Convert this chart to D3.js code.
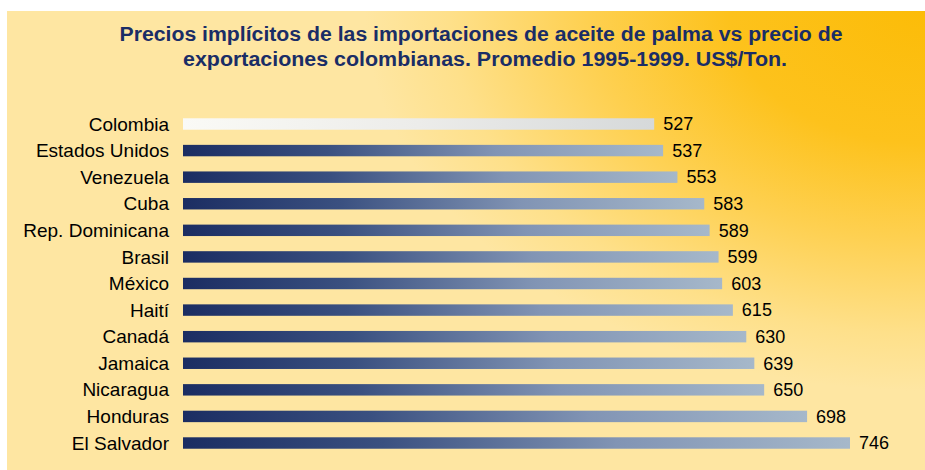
<!DOCTYPE html>
<html>
<head>
<meta charset="utf-8">
<script src="https://cdn.jsdelivr.net/npm/d3@7"></script>
<style>
  html, body { margin: 0; padding: 0; background: #ffffff; }
  svg { display: block; }
</style>
</head>
<body>
<svg id="chart" width="925" height="470"></svg>
<script>
const titleLines = [
  "Precios implícitos de las importaciones de aceite de palma vs precio de",
  "exportaciones colombianas. Promedio 1995-1999. US$/Ton."
];
const countries = ["Colombia", "Estados Unidos", "Venezuela", "Cuba", "Rep. Dominicana", "Brasil",
  "México", "Haití", "Canadá", "Jamaica", "Nicaragua", "Honduras", "El Salvador"];
const values = [527, 537, 553, 583, 589, 599, 603, 615, 630, 639, 650, 698, 746];
const highlight = "Colombia";

const data = countries.map((c, i) => ({ country: c, value: values[i] }));

const W = 925, H = 470;
const svg = d3.select("#chart");
const defs = svg.append("defs");

// background panel gradient (gold at top-right)
const bg = defs.append("radialGradient").attr("id", "bgGrad")
  .attr("gradientUnits", "userSpaceOnUse")
  .attr("cx", 925).attr("cy", 10).attr("r", 560)
  .attr("gradientTransform", "translate(925,10) scale(1,0.68) translate(-925,-10)");
[[0, "#fcbc08"], [0.35, "#fdc21c"], [0.6, "#fed050"], [0.85, "#fee08a"], [1, "#fee6a2"]]
  .forEach(([o, c]) => bg.append("stop").attr("offset", o).attr("stop-color", c));

const barGrad = defs.append("linearGradient").attr("id", "barGrad")
  .attr("x1", 0).attr("x2", 1).attr("y1", 0).attr("y2", 0);
[[0, "#1b2d62"], [0.3, "#3a5080"], [0.65, "#8194b4"], [1, "#a6b8ca"]]
  .forEach(([o, c]) => barGrad.append("stop").attr("offset", o).attr("stop-color", c));

const hiGrad = defs.append("linearGradient").attr("id", "hiGrad")
  .attr("x1", 0).attr("x2", 1).attr("y1", 0).attr("y2", 0);
[[0, "#fafaf6"], [0.5, "#ececea"], [1, "#d6d9da"]]
  .forEach(([o, c]) => hiGrad.append("stop").attr("offset", o).attr("stop-color", c));

svg.append("rect").attr("x", 7).attr("y", 11).attr("width", W - 7).attr("height", H - 11)
  .attr("fill", "url(#bgGrad)");

// title
const titleWidths = [723, 604];
const titleCenters = [481, 485];
titleLines.forEach((t, i) => {
  svg.append("text")
    .attr("x", titleCenters[i]).attr("y", 41 + i * 25)
    .attr("text-anchor", "middle")
    .attr("font-family", "'Liberation Sans', Arial, sans-serif")
    .attr("font-weight", "bold")
    .attr("font-size", 20)
    .attr("fill", "#1a2d66")
    .attr("textLength", titleWidths[i])
    .attr("lengthAdjust", "spacingAndGlyphs")
    .text(t);
});

// scales
const x = d3.scaleLinear().domain([0, 746]).range([183, 850]);
const y = d3.scaleBand().domain(countries).range([110.7, 456.3])
  .paddingInner(0.57).paddingOuter(0.285);

// category axis (labels only)
const yAxis = d3.axisLeft(y).tickSize(0).tickPadding(0);
const gAxis = svg.append("g").attr("transform", "translate(169,0)").call(yAxis);
gAxis.select(".domain").remove();
gAxis.selectAll("text")
  .attr("font-family", "'Liberation Sans', Arial, sans-serif")
  .attr("font-size", 19)
  .attr("fill", "#000")
  .attr("dy", "0.35em");

// bars
svg.append("g").selectAll("rect").data(data).join("rect")
  .attr("x", x(0))
  .attr("y", d => y(d.country))
  .attr("width", d => x(d.value) - x(0))
  .attr("height", y.bandwidth())
  .attr("fill", d => d.country === highlight ? "url(#hiGrad)" : "url(#barGrad)");

// value labels
svg.append("g").selectAll("text").data(data).join("text")
  .attr("x", d => x(d.value) + 9)
  .attr("y", d => y(d.country) + y.bandwidth() / 2)
  .attr("dy", "0.35em")
  .attr("font-family", "'Liberation Sans', Arial, sans-serif")
  .attr("font-size", 18)
  .attr("fill", "#000")
  .text(d => d.value);
</script>
</body>
</html>
